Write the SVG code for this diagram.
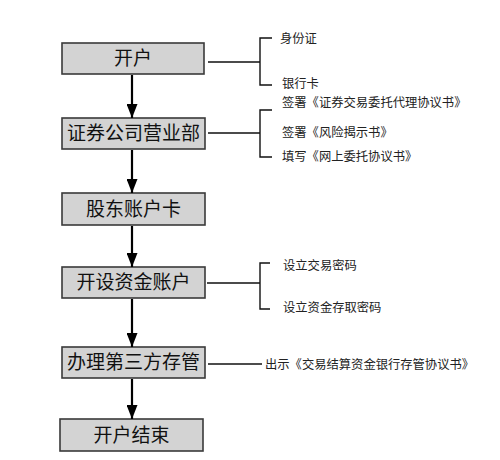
<svg xmlns="http://www.w3.org/2000/svg" width="500" height="460" viewBox="0 0 500 460">
<style>
.box{fill:#d3d3d3;stroke:#3a3a3a;stroke-width:1.6}
.bt{font-family:"Noto Sans CJK SC","Noto Sans CJK TC",sans-serif;font-size:19px;fill:#111;text-anchor:middle}
.st{font-family:"Noto Sans CJK SC","Noto Sans CJK TC",sans-serif;font-size:12.3px;fill:#222}
.arr{stroke:#000;stroke-width:2.2;fill:none}
.ln{stroke:#111;stroke-width:1.4;fill:none}
</style>
<defs>
<marker id="ah" markerUnits="userSpaceOnUse" markerWidth="14" markerHeight="11" refX="14" refY="5.5" orient="auto">
<path d="M0,0 L14,5.5 L0,11 z" fill="#000"/>
</marker>
</defs>
<rect width="500" height="460" fill="#fff"/>
<g id="n1"><rect class="box" x="62" y="43" width="142" height="31"/><text class="bt" x="133" y="65">开户</text></g>
<g id="n2"><rect class="box" x="62" y="118" width="143" height="31"/><text class="bt" x="133.5" y="140">证券公司营业部</text></g>
<g id="n3"><rect class="box" x="62" y="193" width="143" height="32"/><text class="bt" x="133.5" y="216">股东账户卡</text></g>
<g id="n4"><rect class="box" x="62" y="267" width="143" height="31"/><text class="bt" x="133.5" y="289">开设资金账户</text></g>
<g id="n5"><rect class="box" x="62" y="347" width="143" height="31"/><text class="bt" x="133.5" y="369">办理第三方存管</text></g>
<g id="n6"><rect class="box" x="60" y="419" width="143" height="32"/><text class="bt" x="131.5" y="442">开户结束</text></g>
<g id="connectors">
<line class="arr" x1="132" y1="75" x2="132" y2="118" marker-end="url(#ah)"/>
<line class="arr" x1="132" y1="150" x2="132" y2="193" marker-end="url(#ah)"/>
<line class="arr" x1="132" y1="226" x2="132" y2="267" marker-end="url(#ah)"/>
<line class="arr" x1="132" y1="299" x2="132" y2="347" marker-end="url(#ah)"/>
<line class="arr" x1="132" y1="379" x2="132" y2="419" marker-end="url(#ah)"/>
<path class="ln" d="M208,62 H260 M272,38 H260 V85 H272"/>
<path class="ln" d="M208,133 H260 M272,110 H260 V157 H272"/>
<path class="ln" d="M207,283 H260 M270,263 H260 V309 H270"/>
<path class="ln" d="M208,364 H262"/>
</g>
<g id="labels">
<text class="st" x="280" y="43">身份证</text>
<text class="st" x="282" y="88">银行卡</text>
<text class="st" x="282" y="107">签署《证券交易委托代理协议书》</text>
<text class="st" x="282" y="137">签署《风险揭示书》</text>
<text class="st" x="282" y="161">填写《网上委托协议书》</text>
<text class="st" x="283" y="270">设立交易密码</text>
<text class="st" x="283" y="312">设立资金存取密码</text>
<text class="st" x="265" y="369">出示《交易结算资金银行存管协议书》</text>
</g>
</svg>
